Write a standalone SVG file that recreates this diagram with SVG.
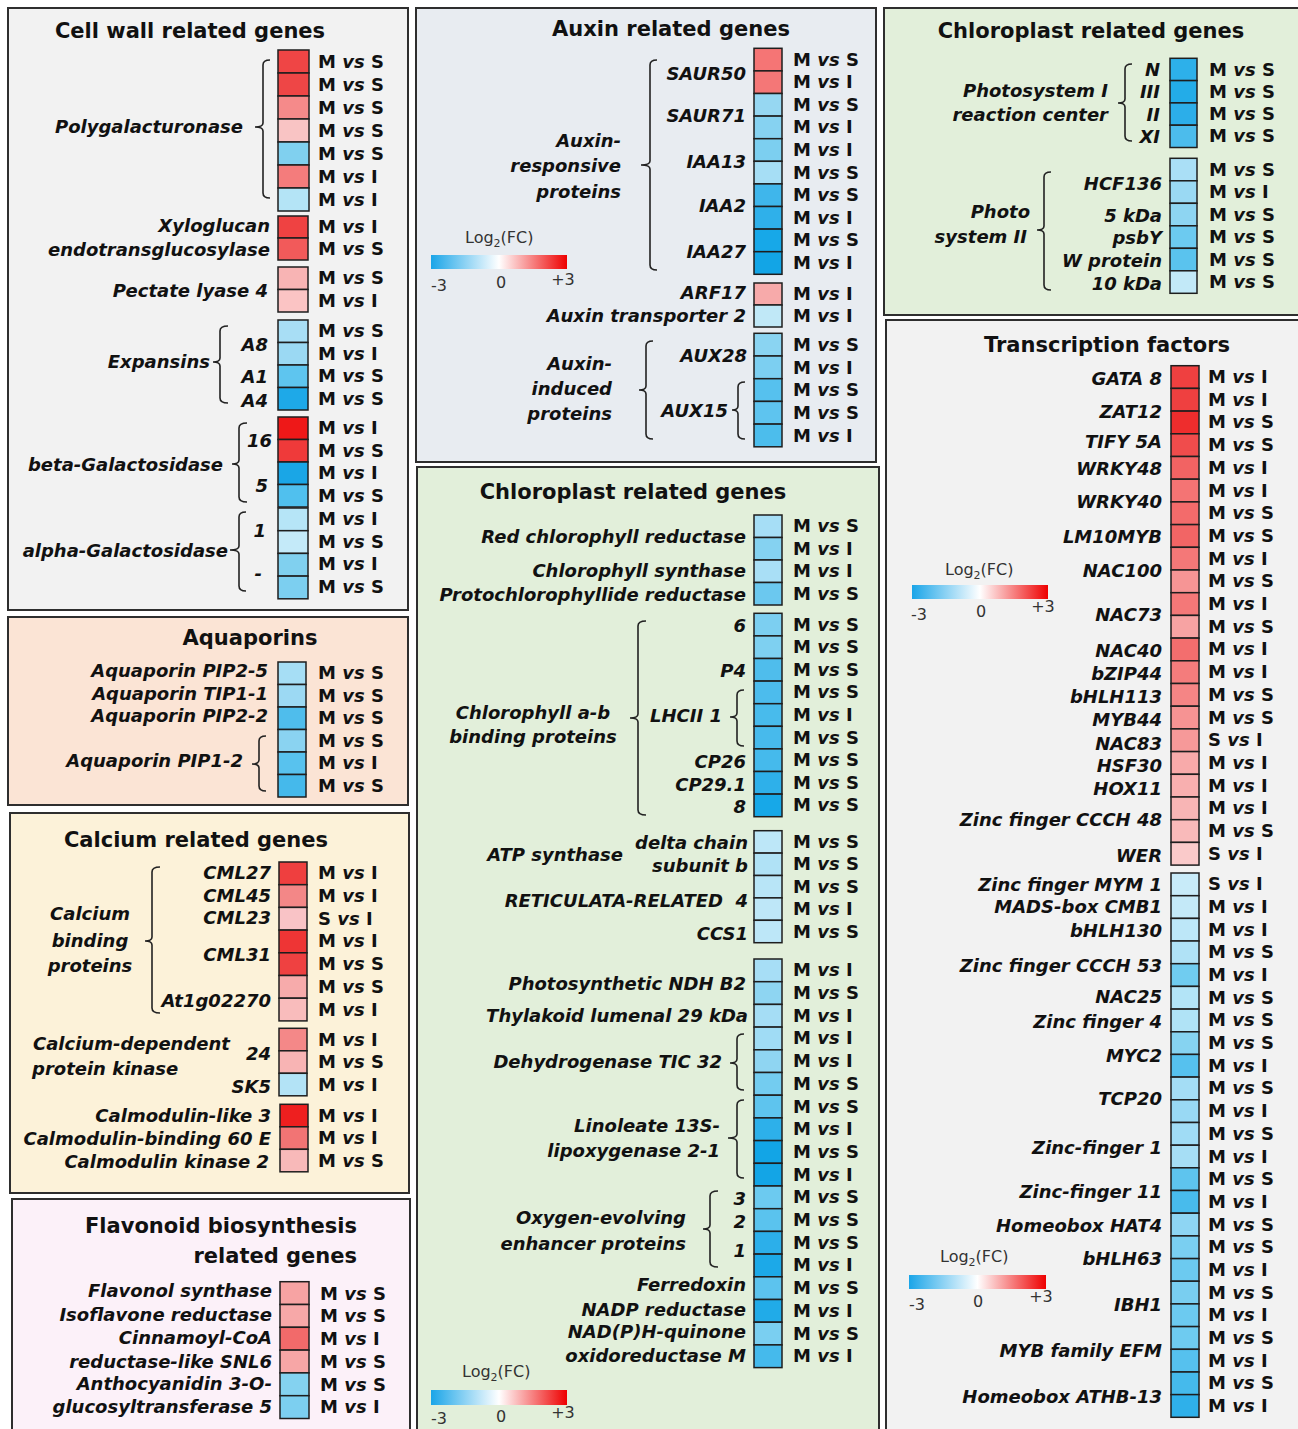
<svg xmlns="http://www.w3.org/2000/svg" width="1298" height="1429" viewBox="0 0 1298 1429">
<defs>
<linearGradient id="lg" x1="0" y1="0" x2="1" y2="0">
<stop offset="0" stop-color="#1aa5e8"/>
<stop offset="0.5" stop-color="#ffffff"/>
<stop offset="1" stop-color="#ee0000"/>
</linearGradient>
<style>
text{font-family:"DejaVu Sans","Liberation Sans",sans-serif;fill:#111}
.p{stroke:#2e2e2e;stroke-width:2}
.t{font-size:21px;font-weight:bold;text-anchor:middle}
.te{font-size:21px;font-weight:bold;text-anchor:end}
.l{font-size:18px;font-weight:bold;font-style:italic;text-anchor:end}
.m{font-size:18px;font-weight:bold;font-style:italic;text-anchor:middle}
.s{font-size:18px;font-weight:bold;font-style:italic;text-anchor:start}
.c{font-size:18px;font-weight:bold}
.i{font-style:italic}
.k{stroke:#1e1e1e;stroke-width:1.5}
.br{fill:none;stroke:#222;stroke-width:1.6}
.lg{font-size:16px;fill:#333}
.lt{font-size:16px;fill:#333;text-anchor:middle}
</style>
</defs>

<!-- Panel 1: Cell wall -->
<g id="cell-wall">
<rect class="p" x="8" y="8" width="400" height="602" fill="#f2f2f2"/>
<text class="t" x="190" y="38">Cell wall related genes</text>
<g id="polygalacturonase">
<rect class="k" x="278" y="50" width="31" height="23" fill="#ef4545"/>
<rect class="k" x="278" y="73" width="31" height="23" fill="#ee4646"/>
<rect class="k" x="278" y="96" width="31" height="23" fill="#f58a8a"/>
<rect class="k" x="278" y="119" width="31" height="23" fill="#f9c4c4"/>
<rect class="k" x="278" y="142" width="31" height="23" fill="#80d0ef"/>
<rect class="k" x="278" y="165" width="31" height="23" fill="#f47c7c"/>
<rect class="k" x="278" y="188" width="31" height="23" fill="#b4e4f6"/>
<text class="l" x="243" y="133">Polygalacturonase</text>
<text class="c" x="318" y="67.5">M <tspan class="i">vs</tspan> S</text>
<text class="c" x="318" y="90.5">M <tspan class="i">vs</tspan> S</text>
<text class="c" x="318" y="113.5">M <tspan class="i">vs</tspan> S</text>
<text class="c" x="318" y="136.5">M <tspan class="i">vs</tspan> S</text>
<text class="c" x="318" y="159.5">M <tspan class="i">vs</tspan> S</text>
<text class="c" x="318" y="182.5">M <tspan class="i">vs</tspan> I</text>
<text class="c" x="318" y="205.5">M <tspan class="i">vs</tspan> I</text>
</g>
<g id="xyloglucan">
<rect class="k" x="278" y="216" width="30" height="22" fill="#ef4242"/>
<rect class="k" x="278" y="238" width="30" height="22" fill="#f25a5a"/>
<text class="l" x="270" y="232">Xyloglucan</text>
<text class="l" x="270" y="256">endotransglucosylase</text>
<text class="c" x="318" y="233">M <tspan class="i">vs</tspan> I</text>
<text class="c" x="318" y="255">M <tspan class="i">vs</tspan> S</text>
</g>
<g id="pectate-lyase">
<rect class="k" x="278" y="267" width="30" height="22.5" fill="#f8b4b4"/>
<rect class="k" x="278" y="289.5" width="30" height="22.5" fill="#fbc4c4"/>
<text class="l" x="268" y="297">Pectate lyase 4</text>
<text class="c" x="318" y="284">M <tspan class="i">vs</tspan> S</text>
<text class="c" x="318" y="307">M <tspan class="i">vs</tspan> I</text>
</g>
<g id="expansins">
<rect class="k" x="278" y="320" width="30" height="22.5" fill="#a8def5"/>
<rect class="k" x="278" y="342.5" width="30" height="22.5" fill="#9bd9f3"/>
<rect class="k" x="278" y="365" width="30" height="22.5" fill="#5ec5ef"/>
<rect class="k" x="278" y="387.5" width="30" height="22.5" fill="#1ea9e8"/>
<text class="l" x="210" y="368">Expansins</text>
<text class="l" x="268" y="351">A8</text>
<text class="l" x="268" y="383">A1</text>
<text class="l" x="268" y="407">A4</text>
<text class="c" x="318" y="337">M <tspan class="i">vs</tspan> S</text>
<text class="c" x="318" y="360">M <tspan class="i">vs</tspan> I</text>
<text class="c" x="318" y="382">M <tspan class="i">vs</tspan> S</text>
<text class="c" x="318" y="405">M <tspan class="i">vs</tspan> S</text>
</g>
<g id="beta-galactosidase">
<rect class="k" x="278" y="417" width="30" height="22.5" fill="#ee1818"/>
<rect class="k" x="278" y="439.5" width="30" height="22.5" fill="#ef3a3a"/>
<rect class="k" x="278" y="462" width="30" height="22.5" fill="#1aa6e6"/>
<rect class="k" x="278" y="484.5" width="30" height="22.5" fill="#50c0ee"/>
<text class="l" x="223" y="471">beta-Galactosidase</text>
<text class="l" x="272" y="447">16</text>
<text class="l" x="268" y="492">5</text>
<text class="c" x="318" y="434">M <tspan class="i">vs</tspan> I</text>
<text class="c" x="318" y="457">M <tspan class="i">vs</tspan> S</text>
<text class="c" x="318" y="479">M <tspan class="i">vs</tspan> I</text>
<text class="c" x="318" y="502">M <tspan class="i">vs</tspan> S</text>
</g>
<g id="alpha-galactosidase">
<rect class="k" x="278" y="508" width="30" height="22.7" fill="#b6e5f7"/>
<rect class="k" x="278" y="530.7" width="30" height="22.7" fill="#c4eaf9"/>
<rect class="k" x="278" y="553.4" width="30" height="22.7" fill="#80d0ef"/>
<rect class="k" x="278" y="576.1" width="30" height="22.7" fill="#7ccff0"/>
<text class="l" x="228" y="557">alpha-Galactosidase</text>
<text class="l" x="266" y="537">1</text>
<text class="l" x="262" y="580">-</text>
<text class="c" x="318" y="525">M <tspan class="i">vs</tspan> I</text>
<text class="c" x="318" y="548">M <tspan class="i">vs</tspan> S</text>
<text class="c" x="318" y="570">M <tspan class="i">vs</tspan> I</text>
<text class="c" x="318" y="593">M <tspan class="i">vs</tspan> S</text>
</g>
</g>

<!-- Panel 2: Aquaporins -->
<g id="aquaporins">
<rect class="p" x="8" y="617" width="400" height="188" fill="#fbe4d5"/>
<text class="t" x="250" y="645">Aquaporins</text>
<rect class="k" x="278" y="662" width="28" height="22.5" fill="#a6def5"/>
<rect class="k" x="278" y="684.5" width="28" height="22.5" fill="#9cd9f3"/>
<rect class="k" x="278" y="707" width="28" height="22.5" fill="#4fbdec"/>
<rect class="k" x="278" y="729.5" width="28" height="22.5" fill="#8ad3f1"/>
<rect class="k" x="278" y="752" width="28" height="22.5" fill="#58c2ee"/>
<rect class="k" x="278" y="774.5" width="28" height="22.5" fill="#45b9eb"/>
<text class="l" x="268" y="677">Aquaporin PIP2-5</text>
<text class="l" x="268" y="700">Aquaporin TIP1-1</text>
<text class="l" x="268" y="722">Aquaporin PIP2-2</text>
<text class="l" x="243" y="767">Aquaporin PIP1-2</text>
<text class="c" x="318" y="679">M <tspan class="i">vs</tspan> S</text>
<text class="c" x="318" y="702">M <tspan class="i">vs</tspan> S</text>
<text class="c" x="318" y="724">M <tspan class="i">vs</tspan> S</text>
<text class="c" x="318" y="747">M <tspan class="i">vs</tspan> S</text>
<text class="c" x="318" y="769">M <tspan class="i">vs</tspan> I</text>
<text class="c" x="318" y="792">M <tspan class="i">vs</tspan> S</text>
</g>

<!-- Panel 3: Calcium -->
<g id="calcium">
<rect class="p" x="10" y="813" width="399" height="380" fill="#fcf2d9"/>
<text class="t" x="196" y="847">Calcium related genes</text>
<g id="calcium-binding">
<rect class="k" x="279" y="862" width="28" height="22.7" fill="#ef3f3f"/>
<rect class="k" x="279" y="884.7" width="28" height="22.7" fill="#f38787"/>
<rect class="k" x="279" y="907.4" width="28" height="22.7" fill="#f9c3c6"/>
<rect class="k" x="279" y="930.1" width="28" height="22.7" fill="#ee3535"/>
<rect class="k" x="279" y="952.8" width="28" height="22.7" fill="#ef4141"/>
<rect class="k" x="279" y="975.5" width="28" height="22.7" fill="#f7abab"/>
<rect class="k" x="279" y="998.2" width="28" height="22.7" fill="#f9bcbc"/>
<text class="m" x="90" y="920">Calcium</text>
<text class="m" x="90" y="947">binding</text>
<text class="m" x="90" y="972">proteins</text>
<text class="l" x="271" y="879">CML27</text>
<text class="l" x="271" y="902">CML45</text>
<text class="l" x="271" y="924">CML23</text>
<text class="l" x="271" y="961">CML31</text>
<text class="l" x="271" y="1007">At1g02270</text>
<text class="c" x="318" y="879">M <tspan class="i">vs</tspan> I</text>
<text class="c" x="318" y="902">M <tspan class="i">vs</tspan> I</text>
<text class="c" x="318" y="925">S <tspan class="i">vs</tspan> I</text>
<text class="c" x="318" y="947">M <tspan class="i">vs</tspan> I</text>
<text class="c" x="318" y="970">M <tspan class="i">vs</tspan> S</text>
<text class="c" x="318" y="993">M <tspan class="i">vs</tspan> S</text>
<text class="c" x="318" y="1016">M <tspan class="i">vs</tspan> I</text>
</g>
<g id="cdpk">
<rect class="k" x="279" y="1028.3" width="28" height="22.5" fill="#f48888"/>
<rect class="k" x="279" y="1050.8" width="28" height="22.5" fill="#f8b4b4"/>
<rect class="k" x="279" y="1073.3" width="28" height="22.5" fill="#b3e3f6"/>
<text class="s" x="33" y="1050">Calcium-dependent</text>
<text class="s" x="32" y="1075">protein kinase</text>
<text class="l" x="271" y="1060">24</text>
<text class="l" x="271" y="1093">SK5</text>
<text class="c" x="318" y="1046">M <tspan class="i">vs</tspan> I</text>
<text class="c" x="318" y="1068">M <tspan class="i">vs</tspan> S</text>
<text class="c" x="318" y="1091">M <tspan class="i">vs</tspan> I</text>
</g>
<g id="calmodulin">
<rect class="k" x="280" y="1104.3" width="28" height="22.5" fill="#ee1f1f"/>
<rect class="k" x="280" y="1126.8" width="28" height="22.5" fill="#f27474"/>
<rect class="k" x="280" y="1149.3" width="28" height="22.5" fill="#f8b9b9"/>
<text class="l" x="271" y="1122">Calmodulin-like 3</text>
<text class="l" x="271" y="1145">Calmodulin-binding 60 E</text>
<text class="l" x="269" y="1168">Calmodulin kinase 2</text>
<text class="c" x="318" y="1121.5">M <tspan class="i">vs</tspan> I</text>
<text class="c" x="318" y="1144">M <tspan class="i">vs</tspan> I</text>
<text class="c" x="318" y="1166.5">M <tspan class="i">vs</tspan> S</text>
</g>
</g>

<!-- Panel 4: Flavonoid -->
<g id="flavonoid">
<rect class="p" x="12" y="1199" width="398" height="240" fill="#fcf1f9"/>
<text class="te" x="357" y="1233">Flavonoid biosynthesis</text>
<text class="te" x="357" y="1263">related genes</text>
<rect class="k" x="280" y="1281.7" width="29" height="22.8" fill="#f7a3a3"/>
<rect class="k" x="280" y="1304.5" width="29" height="22.8" fill="#f7a8a8"/>
<rect class="k" x="280" y="1327.3" width="29" height="22.8" fill="#f26a6a"/>
<rect class="k" x="280" y="1350.1" width="29" height="22.8" fill="#f7a6a6"/>
<rect class="k" x="280" y="1372.9" width="29" height="22.8" fill="#84d2f0"/>
<rect class="k" x="280" y="1395.7" width="29" height="22.8" fill="#7ccff0"/>
<text class="l" x="272" y="1297">Flavonol synthase</text>
<text class="l" x="272" y="1321">Isoflavone reductase</text>
<text class="l" x="272" y="1344">Cinnamoyl-CoA</text>
<text class="l" x="272" y="1368">reductase-like SNL6</text>
<text class="l" x="272" y="1390">Anthocyanidin 3-O-</text>
<text class="l" x="272" y="1413">glucosyltransferase 5</text>
<text class="c" x="320" y="1300">M <tspan class="i">vs</tspan> S</text>
<text class="c" x="320" y="1322">M <tspan class="i">vs</tspan> S</text>
<text class="c" x="320" y="1345">M <tspan class="i">vs</tspan> I</text>
<text class="c" x="320" y="1368">M <tspan class="i">vs</tspan> S</text>
<text class="c" x="320" y="1391">M <tspan class="i">vs</tspan> S</text>
<text class="c" x="320" y="1413">M <tspan class="i">vs</tspan> I</text>
</g>

<!-- Panel 5: Auxin -->
<g id="auxin">
<rect class="p" x="416" y="8" width="460" height="454" fill="#e8ecf1"/>
<text class="t" x="671" y="36">Auxin related genes</text>
<g id="auxin-responsive">
<rect class="k" x="754" y="48.3" width="28" height="22.6" fill="#f57575"/>
<rect class="k" x="754" y="70.9" width="28" height="22.6" fill="#f47777"/>
<rect class="k" x="754" y="93.5" width="28" height="22.6" fill="#96d7f2"/>
<rect class="k" x="754" y="116.1" width="28" height="22.6" fill="#86d2f1"/>
<rect class="k" x="754" y="138.7" width="28" height="22.6" fill="#7ccff0"/>
<rect class="k" x="754" y="161.3" width="28" height="22.6" fill="#a6def5"/>
<rect class="k" x="754" y="183.9" width="28" height="22.6" fill="#3fb6eb"/>
<rect class="k" x="754" y="206.5" width="28" height="22.6" fill="#2fb0ea"/>
<rect class="k" x="754" y="229.1" width="28" height="22.6" fill="#17a8e8"/>
<rect class="k" x="754" y="251.7" width="28" height="22.6" fill="#12a5e6"/>
<text class="l" x="621" y="147">Auxin-</text>
<text class="l" x="621" y="172">responsive</text>
<text class="l" x="621" y="198">proteins</text>
<text class="l" x="746" y="80">SAUR50</text>
<text class="l" x="746" y="122">SAUR71</text>
<text class="l" x="746" y="168">IAA13</text>
<text class="l" x="746" y="212">IAA2</text>
<text class="l" x="746" y="258">IAA27</text>
<text class="c" x="793" y="65.6">M <tspan class="i">vs</tspan> S</text>
<text class="c" x="793" y="88.2">M <tspan class="i">vs</tspan> I</text>
<text class="c" x="793" y="110.8">M <tspan class="i">vs</tspan> S</text>
<text class="c" x="793" y="133.4">M <tspan class="i">vs</tspan> I</text>
<text class="c" x="793" y="156">M <tspan class="i">vs</tspan> I</text>
<text class="c" x="793" y="178.6">M <tspan class="i">vs</tspan> S</text>
<text class="c" x="793" y="201.2">M <tspan class="i">vs</tspan> S</text>
<text class="c" x="793" y="223.8">M <tspan class="i">vs</tspan> I</text>
<text class="c" x="793" y="246.4">M <tspan class="i">vs</tspan> S</text>
<text class="c" x="793" y="269">M <tspan class="i">vs</tspan> I</text>
</g>
<g id="legend-1">
<text class="lg" x="465" y="243">Log<tspan font-size="11" dy="4">2</tspan><tspan dy="-4">(FC)</tspan></text>
<rect x="431" y="255" width="136" height="14" fill="url(#lg)"/>
<text class="lt" x="439" y="291">-3</text>
<text class="lt" x="501" y="288">0</text>
<text class="lt" x="563" y="285">+3</text>
</g>
<g id="arf17">
<rect class="k" x="754" y="283" width="28" height="22" fill="#f7aaaa"/>
<rect class="k" x="754" y="305" width="28" height="22" fill="#c0e8f7"/>
<text class="l" x="746" y="299">ARF17</text>
<text class="l" x="746" y="322">Auxin transporter 2</text>
<text class="c" x="793" y="300">M <tspan class="i">vs</tspan> I</text>
<text class="c" x="793" y="322">M <tspan class="i">vs</tspan> I</text>
</g>
<g id="auxin-induced">
<rect class="k" x="754" y="333.3" width="28" height="22.7" fill="#8ad4f2"/>
<rect class="k" x="754" y="356" width="28" height="22.7" fill="#7ccff1"/>
<rect class="k" x="754" y="378.7" width="28" height="22.7" fill="#56c1ee"/>
<rect class="k" x="754" y="401.4" width="28" height="22.7" fill="#5ec4ef"/>
<rect class="k" x="754" y="424.1" width="28" height="22.7" fill="#4cbdec"/>
<text class="l" x="612" y="370">Auxin-</text>
<text class="l" x="612" y="395">induced</text>
<text class="l" x="612" y="420">proteins</text>
<text class="l" x="747" y="362">AUX28</text>
<text class="l" x="728" y="417">AUX15</text>
<text class="c" x="793" y="351">M <tspan class="i">vs</tspan> S</text>
<text class="c" x="793" y="373.5">M <tspan class="i">vs</tspan> I</text>
<text class="c" x="793" y="396">M <tspan class="i">vs</tspan> S</text>
<text class="c" x="793" y="419">M <tspan class="i">vs</tspan> S</text>
<text class="c" x="793" y="441.5">M <tspan class="i">vs</tspan> I</text>
</g>
</g>

<!-- Panel 6: Chloroplast (middle) -->
<g id="chloroplast-middle">
<rect class="p" x="417" y="467" width="462" height="972" fill="#e2efda"/>
<text class="t" x="633" y="499">Chloroplast related genes</text>
<g id="chlorophyll-enzymes">
<rect class="k" x="754" y="515" width="28" height="22.5" fill="#a6def6"/>
<rect class="k" x="754" y="537.5" width="28" height="22.5" fill="#85d2f1"/>
<rect class="k" x="754" y="560" width="28" height="22.5" fill="#a9dff6"/>
<rect class="k" x="754" y="582.5" width="28" height="22.5" fill="#6bc8ef"/>
<text class="l" x="746" y="543">Red chlorophyll reductase</text>
<text class="l" x="746" y="577">Chlorophyll synthase</text>
<text class="l" x="746" y="601">Protochlorophyllide reductase</text>
<text class="c" x="793" y="532">M <tspan class="i">vs</tspan> S</text>
<text class="c" x="793" y="555">M <tspan class="i">vs</tspan> I</text>
<text class="c" x="793" y="577">M <tspan class="i">vs</tspan> I</text>
<text class="c" x="793" y="600">M <tspan class="i">vs</tspan> S</text>
</g>
<g id="chlorophyll-ab">
<rect class="k" x="754" y="613.3" width="28" height="22.6" fill="#7ccff1"/>
<rect class="k" x="754" y="635.9" width="28" height="22.6" fill="#7ed0f1"/>
<rect class="k" x="754" y="658.5" width="28" height="22.6" fill="#4fbdec"/>
<rect class="k" x="754" y="681.1" width="28" height="22.6" fill="#4cbced"/>
<rect class="k" x="754" y="703.7" width="28" height="22.6" fill="#48bbec"/>
<rect class="k" x="754" y="726.3" width="28" height="22.6" fill="#47baec"/>
<rect class="k" x="754" y="748.9" width="28" height="22.6" fill="#45baec"/>
<rect class="k" x="754" y="771.5" width="28" height="22.6" fill="#2eb0ea"/>
<rect class="k" x="754" y="794.1" width="28" height="22.6" fill="#17a8e8"/>
<text class="m" x="533" y="719">Chlorophyll a-b</text>
<text class="m" x="533" y="743">binding proteins</text>
<text class="l" x="746" y="632">6</text>
<text class="l" x="746" y="677">P4</text>
<text class="l" x="722" y="722">LHCII 1</text>
<text class="l" x="746" y="768">CP26</text>
<text class="l" x="746" y="791">CP29.1</text>
<text class="l" x="746" y="813">8</text>
<text class="c" x="793" y="630.6">M <tspan class="i">vs</tspan> S</text>
<text class="c" x="793" y="653.2">M <tspan class="i">vs</tspan> S</text>
<text class="c" x="793" y="675.8">M <tspan class="i">vs</tspan> S</text>
<text class="c" x="793" y="698.4">M <tspan class="i">vs</tspan> S</text>
<text class="c" x="793" y="721">M <tspan class="i">vs</tspan> I</text>
<text class="c" x="793" y="743.6">M <tspan class="i">vs</tspan> S</text>
<text class="c" x="793" y="766.2">M <tspan class="i">vs</tspan> S</text>
<text class="c" x="793" y="788.8">M <tspan class="i">vs</tspan> S</text>
<text class="c" x="793" y="811.4">M <tspan class="i">vs</tspan> S</text>
</g>
<g id="atp-synthase">
<rect class="k" x="754" y="830.7" width="28" height="22.4" fill="#bde7f8"/>
<rect class="k" x="754" y="853.1" width="28" height="22.4" fill="#b0e2f6"/>
<rect class="k" x="754" y="875.5" width="28" height="22.4" fill="#b8e5f7"/>
<rect class="k" x="754" y="897.9" width="28" height="22.4" fill="#bee7f8"/>
<rect class="k" x="754" y="920.3" width="28" height="22.4" fill="#bde7f8"/>
<text class="l" x="623" y="861">ATP synthase</text>
<text class="l" x="748" y="849">delta chain</text>
<text class="l" x="748" y="872">subunit b</text>
<text class="l" x="748" y="907" xml:space="preserve">RETICULATA-RELATED  4</text>
<text class="l" x="748" y="940">CCS1</text>
<text class="c" x="793" y="848">M <tspan class="i">vs</tspan> S</text>
<text class="c" x="793" y="870">M <tspan class="i">vs</tspan> S</text>
<text class="c" x="793" y="893">M <tspan class="i">vs</tspan> S</text>
<text class="c" x="793" y="915">M <tspan class="i">vs</tspan> I</text>
<text class="c" x="793" y="938">M <tspan class="i">vs</tspan> S</text>
</g>
<g id="photosynthesis-other">
<rect class="k" x="754" y="959" width="28" height="22.7" fill="#a7def6"/>
<rect class="k" x="754" y="981.7" width="28" height="22.7" fill="#8ed5f2"/>
<rect class="k" x="754" y="1004.4" width="28" height="22.7" fill="#a5ddf5"/>
<rect class="k" x="754" y="1027.1" width="28" height="22.7" fill="#a0dcf5"/>
<rect class="k" x="754" y="1049.8" width="28" height="22.7" fill="#8fd5f2"/>
<rect class="k" x="754" y="1072.5" width="28" height="22.7" fill="#73ccf0"/>
<rect class="k" x="754" y="1095.2" width="28" height="22.7" fill="#5ec4ee"/>
<rect class="k" x="754" y="1117.9" width="28" height="22.7" fill="#2db0ea"/>
<rect class="k" x="754" y="1140.6" width="28" height="22.7" fill="#12a5e6"/>
<rect class="k" x="754" y="1163.3" width="28" height="22.7" fill="#13a5e6"/>
<rect class="k" x="754" y="1186" width="28" height="22.7" fill="#6ccaf0"/>
<rect class="k" x="754" y="1208.7" width="28" height="22.7" fill="#5ac3ee"/>
<rect class="k" x="754" y="1231.4" width="28" height="22.7" fill="#2cafea"/>
<rect class="k" x="754" y="1254.1" width="28" height="22.7" fill="#1ca9e8"/>
<rect class="k" x="754" y="1276.8" width="28" height="22.7" fill="#5cc3ee"/>
<rect class="k" x="754" y="1299.5" width="28" height="22.7" fill="#21abe8"/>
<rect class="k" x="754" y="1322.2" width="28" height="22.7" fill="#7acff1"/>
<rect class="k" x="754" y="1344.9" width="28" height="22.7" fill="#45baec"/>
<text class="l" x="746" y="990">Photosynthetic NDH B2</text>
<text class="l" x="748" y="1022">Thylakoid lumenal 29 kDa</text>
<text class="l" x="722" y="1068">Dehydrogenase TIC 32</text>
<text class="l" x="720" y="1132">Linoleate 13S-</text>
<text class="l" x="720" y="1157">lipoxygenase 2-1</text>
<text class="l" x="686" y="1224">Oxygen-evolving</text>
<text class="l" x="686" y="1250">enhancer proteins</text>
<text class="l" x="746" y="1205">3</text>
<text class="l" x="746" y="1228">2</text>
<text class="l" x="746" y="1257">1</text>
<text class="l" x="746" y="1291">Ferredoxin</text>
<text class="l" x="746" y="1316">NADP reductase</text>
<text class="l" x="746" y="1338">NAD(P)H-quinone</text>
<text class="l" x="746" y="1362">oxidoreductase M</text>
<text class="c" x="793" y="976.4">M <tspan class="i">vs</tspan> I</text>
<text class="c" x="793" y="999">M <tspan class="i">vs</tspan> S</text>
<text class="c" x="793" y="1021.7">M <tspan class="i">vs</tspan> I</text>
<text class="c" x="793" y="1044.4">M <tspan class="i">vs</tspan> I</text>
<text class="c" x="793" y="1067.1">M <tspan class="i">vs</tspan> I</text>
<text class="c" x="793" y="1089.8">M <tspan class="i">vs</tspan> S</text>
<text class="c" x="793" y="1112.5">M <tspan class="i">vs</tspan> S</text>
<text class="c" x="793" y="1135.2">M <tspan class="i">vs</tspan> I</text>
<text class="c" x="793" y="1157.9">M <tspan class="i">vs</tspan> S</text>
<text class="c" x="793" y="1180.6">M <tspan class="i">vs</tspan> I</text>
<text class="c" x="793" y="1203.3">M <tspan class="i">vs</tspan> S</text>
<text class="c" x="793" y="1226">M <tspan class="i">vs</tspan> S</text>
<text class="c" x="793" y="1248.7">M <tspan class="i">vs</tspan> S</text>
<text class="c" x="793" y="1271.4">M <tspan class="i">vs</tspan> I</text>
<text class="c" x="793" y="1294.1">M <tspan class="i">vs</tspan> S</text>
<text class="c" x="793" y="1316.8">M <tspan class="i">vs</tspan> I</text>
<text class="c" x="793" y="1339.5">M <tspan class="i">vs</tspan> S</text>
<text class="c" x="793" y="1362.2">M <tspan class="i">vs</tspan> I</text>
</g>
<g id="legend-2">
<text class="lg" x="462" y="1377">Log<tspan font-size="11" dy="4">2</tspan><tspan dy="-4">(FC)</tspan></text>
<rect x="431" y="1390" width="136" height="15" fill="url(#lg)"/>
<text class="lt" x="439" y="1424">-3</text>
<text class="lt" x="501" y="1422">0</text>
<text class="lt" x="563" y="1418">+3</text>
</g>
</g>

<!-- Panel 7: Chloroplast (right) -->
<g id="chloroplast-right">
<rect class="p" x="884" y="8" width="425" height="307" fill="#e2efda"/>
<text class="t" x="1091" y="38">Chloroplast related genes</text>
<g id="photosystem-1">
<rect class="k" x="1170" y="58.3" width="27" height="22.3" fill="#2db0ea"/>
<rect class="k" x="1170" y="80.6" width="27" height="22.3" fill="#23ace8"/>
<rect class="k" x="1170" y="102.9" width="27" height="22.3" fill="#2caee9"/>
<rect class="k" x="1170" y="125.2" width="27" height="22.3" fill="#4cbcec"/>
<text class="l" x="1108" y="97">Photosystem I</text>
<text class="l" x="1108" y="121">reaction center</text>
<text class="l" x="1160" y="76">N</text>
<text class="l" x="1160" y="98">III</text>
<text class="l" x="1160" y="121">II</text>
<text class="l" x="1160" y="143">XI</text>
<text class="c" x="1209" y="75.5">M <tspan class="i">vs</tspan> S</text>
<text class="c" x="1209" y="97.8">M <tspan class="i">vs</tspan> S</text>
<text class="c" x="1209" y="120">M <tspan class="i">vs</tspan> S</text>
<text class="c" x="1209" y="142.4">M <tspan class="i">vs</tspan> S</text>
</g>
<g id="photosystem-2">
<rect class="k" x="1170" y="158.3" width="27" height="22.5" fill="#aadff6"/>
<rect class="k" x="1170" y="180.8" width="27" height="22.5" fill="#9ad9f3"/>
<rect class="k" x="1170" y="203.3" width="27" height="22.5" fill="#8ed5f2"/>
<rect class="k" x="1170" y="225.8" width="27" height="22.5" fill="#6ccaf0"/>
<rect class="k" x="1170" y="248.3" width="27" height="22.5" fill="#5ac3ee"/>
<rect class="k" x="1170" y="270.8" width="27" height="22.5" fill="#c2e9f8"/>
<text class="l" x="1030" y="218">Photo</text>
<text class="l" x="1027" y="243">system II</text>
<text class="l" x="1162" y="190">HCF136</text>
<text class="l" x="1162" y="222">5 kDa</text>
<text class="l" x="1162" y="244">psbY</text>
<text class="l" x="1162" y="267">W protein</text>
<text class="l" x="1162" y="290">10 kDa</text>
<text class="c" x="1209" y="175.5">M <tspan class="i">vs</tspan> S</text>
<text class="c" x="1209" y="198">M <tspan class="i">vs</tspan> I</text>
<text class="c" x="1209" y="220.5">M <tspan class="i">vs</tspan> S</text>
<text class="c" x="1209" y="243">M <tspan class="i">vs</tspan> S</text>
<text class="c" x="1209" y="265.5">M <tspan class="i">vs</tspan> S</text>
<text class="c" x="1209" y="288">M <tspan class="i">vs</tspan> S</text>
</g>
</g>

<!-- Panel 8: Transcription factors -->
<g id="transcription-factors">
<rect class="p" x="886" y="320" width="423" height="1120" fill="#f2f2f2"/>
<text class="t" x="1107" y="352">Transcription factors</text>
<g id="tf-up">
<rect class="k" x="1171" y="365.7" width="28" height="22.7" fill="#ef4040"/>
<rect class="k" x="1171" y="388.4" width="28" height="22.7" fill="#ef4040"/>
<rect class="k" x="1171" y="411.1" width="28" height="22.7" fill="#ee2d2d"/>
<rect class="k" x="1171" y="433.8" width="28" height="22.7" fill="#f04c4c"/>
<rect class="k" x="1171" y="456.5" width="28" height="22.7" fill="#f26363"/>
<rect class="k" x="1171" y="479.2" width="28" height="22.7" fill="#f47474"/>
<rect class="k" x="1171" y="501.9" width="28" height="22.7" fill="#f36b6b"/>
<rect class="k" x="1171" y="524.6" width="28" height="22.7" fill="#f26565"/>
<rect class="k" x="1171" y="547.3" width="28" height="22.7" fill="#f47878"/>
<rect class="k" x="1171" y="570" width="28" height="22.7" fill="#f69595"/>
<rect class="k" x="1171" y="592.7" width="28" height="22.7" fill="#f47878"/>
<rect class="k" x="1171" y="615.4" width="28" height="22.7" fill="#f7a3a3"/>
<rect class="k" x="1171" y="638.1" width="28" height="22.7" fill="#f36e6e"/>
<rect class="k" x="1171" y="660.8" width="28" height="22.7" fill="#f47c7c"/>
<rect class="k" x="1171" y="683.5" width="28" height="22.7" fill="#f58585"/>
<rect class="k" x="1171" y="706.2" width="28" height="22.7" fill="#f69393"/>
<rect class="k" x="1171" y="728.9" width="28" height="22.7" fill="#f69999"/>
<rect class="k" x="1171" y="751.6" width="28" height="22.7" fill="#f8aaaa"/>
<rect class="k" x="1171" y="774.3" width="28" height="22.7" fill="#f8afaf"/>
<rect class="k" x="1171" y="797" width="28" height="22.7" fill="#f8b5b5"/>
<rect class="k" x="1171" y="819.7" width="28" height="22.7" fill="#f9baba"/>
<rect class="k" x="1171" y="842.4" width="28" height="22.7" fill="#facaca"/>
<text class="l" x="1162" y="385">GATA 8</text>
<text class="l" x="1162" y="418">ZAT12</text>
<text class="l" x="1162" y="448">TIFY 5A</text>
<text class="l" x="1162" y="475">WRKY48</text>
<text class="l" x="1162" y="508">WRKY40</text>
<text class="l" x="1162" y="543">LM10MYB</text>
<text class="l" x="1162" y="577">NAC100</text>
<text class="l" x="1162" y="621">NAC73</text>
<text class="l" x="1162" y="657">NAC40</text>
<text class="l" x="1162" y="680">bZIP44</text>
<text class="l" x="1162" y="703">bHLH113</text>
<text class="l" x="1162" y="726">MYB44</text>
<text class="l" x="1162" y="750">NAC83</text>
<text class="l" x="1162" y="772">HSF30</text>
<text class="l" x="1162" y="795">HOX11</text>
<text class="l" x="1162" y="826">Zinc finger CCCH 48</text>
<text class="l" x="1162" y="862">WER</text>
<text class="c" x="1208" y="383">M <tspan class="i">vs</tspan> I</text>
<text class="c" x="1208" y="405.7">M <tspan class="i">vs</tspan> I</text>
<text class="c" x="1208" y="428.4">M <tspan class="i">vs</tspan> S</text>
<text class="c" x="1208" y="451.1">M <tspan class="i">vs</tspan> S</text>
<text class="c" x="1208" y="473.8">M <tspan class="i">vs</tspan> I</text>
<text class="c" x="1208" y="496.5">M <tspan class="i">vs</tspan> I</text>
<text class="c" x="1208" y="519.2">M <tspan class="i">vs</tspan> S</text>
<text class="c" x="1208" y="541.9">M <tspan class="i">vs</tspan> S</text>
<text class="c" x="1208" y="564.6">M <tspan class="i">vs</tspan> I</text>
<text class="c" x="1208" y="587.3">M <tspan class="i">vs</tspan> S</text>
<text class="c" x="1208" y="610">M <tspan class="i">vs</tspan> I</text>
<text class="c" x="1208" y="632.7">M <tspan class="i">vs</tspan> S</text>
<text class="c" x="1208" y="655.4">M <tspan class="i">vs</tspan> I</text>
<text class="c" x="1208" y="678.1">M <tspan class="i">vs</tspan> I</text>
<text class="c" x="1208" y="700.8">M <tspan class="i">vs</tspan> S</text>
<text class="c" x="1208" y="723.5">M <tspan class="i">vs</tspan> S</text>
<text class="c" x="1208" y="746.2">S <tspan class="i">vs</tspan> I</text>
<text class="c" x="1208" y="768.9">M <tspan class="i">vs</tspan> I</text>
<text class="c" x="1208" y="791.6">M <tspan class="i">vs</tspan> I</text>
<text class="c" x="1208" y="814.3">M <tspan class="i">vs</tspan> I</text>
<text class="c" x="1208" y="837">M <tspan class="i">vs</tspan> S</text>
<text class="c" x="1208" y="859.7">S <tspan class="i">vs</tspan> I</text>
</g>
<g id="legend-3">
<text class="lg" x="945" y="575">Log<tspan font-size="11" dy="4">2</tspan><tspan dy="-4">(FC)</tspan></text>
<rect x="912" y="585" width="136" height="14" fill="url(#lg)"/>
<text class="lt" x="919" y="620">-3</text>
<text class="lt" x="981" y="617">0</text>
<text class="lt" x="1043" y="612">+3</text>
</g>
<g id="tf-down">
<rect class="k" x="1171" y="873" width="28" height="22.7" fill="#c8ebf9"/>
<rect class="k" x="1171" y="895.7" width="28" height="22.7" fill="#c4e9f8"/>
<rect class="k" x="1171" y="918.4" width="28" height="22.7" fill="#bde7f8"/>
<rect class="k" x="1171" y="941" width="28" height="22.7" fill="#b0e2f6"/>
<rect class="k" x="1171" y="963.7" width="28" height="22.7" fill="#70ccf0"/>
<rect class="k" x="1171" y="986.4" width="28" height="22.7" fill="#b3e4f7"/>
<rect class="k" x="1171" y="1009.1" width="28" height="22.7" fill="#b0e3f6"/>
<rect class="k" x="1171" y="1031.8" width="28" height="22.7" fill="#86d3f1"/>
<rect class="k" x="1171" y="1054.4" width="28" height="22.7" fill="#56c1ee"/>
<rect class="k" x="1171" y="1077.1" width="28" height="22.7" fill="#a4ddf5"/>
<rect class="k" x="1171" y="1099.8" width="28" height="22.7" fill="#99d9f4"/>
<rect class="k" x="1171" y="1122.5" width="28" height="22.7" fill="#a0dcf5"/>
<rect class="k" x="1171" y="1145.2" width="28" height="22.7" fill="#a6def5"/>
<rect class="k" x="1171" y="1167.8" width="28" height="22.7" fill="#5ec4ee"/>
<rect class="k" x="1171" y="1190.5" width="28" height="22.7" fill="#48bbec"/>
<rect class="k" x="1171" y="1213.2" width="28" height="22.7" fill="#8ed5f3"/>
<rect class="k" x="1171" y="1235.9" width="28" height="22.7" fill="#7acff1"/>
<rect class="k" x="1171" y="1258.6" width="28" height="22.7" fill="#6ccaf0"/>
<rect class="k" x="1171" y="1281.2" width="28" height="22.7" fill="#79cef0"/>
<rect class="k" x="1171" y="1303.9" width="28" height="22.7" fill="#6ccaf0"/>
<rect class="k" x="1171" y="1326.6" width="28" height="22.7" fill="#6ecbf0"/>
<rect class="k" x="1171" y="1349.3" width="28" height="22.7" fill="#56c1ee"/>
<rect class="k" x="1171" y="1372" width="28" height="22.7" fill="#45baec"/>
<rect class="k" x="1171" y="1394.6" width="28" height="22.7" fill="#2fb0ea"/>
<text class="l" x="1162" y="891">Zinc finger MYM 1</text>
<text class="l" x="1162" y="913">MADS-box CMB1</text>
<text class="l" x="1162" y="937">bHLH130</text>
<text class="l" x="1162" y="972">Zinc finger CCCH 53</text>
<text class="l" x="1162" y="1003">NAC25</text>
<text class="l" x="1162" y="1028">Zinc finger 4</text>
<text class="l" x="1162" y="1062">MYC2</text>
<text class="l" x="1162" y="1105">TCP20</text>
<text class="l" x="1162" y="1154">Zinc-finger 1</text>
<text class="l" x="1162" y="1198">Zinc-finger 11</text>
<text class="l" x="1162" y="1232">Homeobox HAT4</text>
<text class="l" x="1162" y="1265">bHLH63</text>
<text class="l" x="1162" y="1311">IBH1</text>
<text class="l" x="1162" y="1357">MYB family EFM</text>
<text class="l" x="1162" y="1403">Homeobox ATHB-13</text>
<text class="c" x="1208" y="890.3">S <tspan class="i">vs</tspan> I</text>
<text class="c" x="1208" y="913">M <tspan class="i">vs</tspan> I</text>
<text class="c" x="1208" y="935.7">M <tspan class="i">vs</tspan> I</text>
<text class="c" x="1208" y="958.3">M <tspan class="i">vs</tspan> S</text>
<text class="c" x="1208" y="981">M <tspan class="i">vs</tspan> I</text>
<text class="c" x="1208" y="1003.7">M <tspan class="i">vs</tspan> S</text>
<text class="c" x="1208" y="1026.4">M <tspan class="i">vs</tspan> S</text>
<text class="c" x="1208" y="1049.1">M <tspan class="i">vs</tspan> S</text>
<text class="c" x="1208" y="1071.7">M <tspan class="i">vs</tspan> I</text>
<text class="c" x="1208" y="1094.4">M <tspan class="i">vs</tspan> S</text>
<text class="c" x="1208" y="1117.1">M <tspan class="i">vs</tspan> I</text>
<text class="c" x="1208" y="1139.8">M <tspan class="i">vs</tspan> S</text>
<text class="c" x="1208" y="1162.5">M <tspan class="i">vs</tspan> I</text>
<text class="c" x="1208" y="1185.1">M <tspan class="i">vs</tspan> S</text>
<text class="c" x="1208" y="1207.8">M <tspan class="i">vs</tspan> I</text>
<text class="c" x="1208" y="1230.5">M <tspan class="i">vs</tspan> S</text>
<text class="c" x="1208" y="1253.2">M <tspan class="i">vs</tspan> S</text>
<text class="c" x="1208" y="1275.9">M <tspan class="i">vs</tspan> I</text>
<text class="c" x="1208" y="1298.5">M <tspan class="i">vs</tspan> S</text>
<text class="c" x="1208" y="1321.2">M <tspan class="i">vs</tspan> I</text>
<text class="c" x="1208" y="1343.9">M <tspan class="i">vs</tspan> S</text>
<text class="c" x="1208" y="1366.6">M <tspan class="i">vs</tspan> I</text>
<text class="c" x="1208" y="1389.3">M <tspan class="i">vs</tspan> S</text>
<text class="c" x="1208" y="1411.9">M <tspan class="i">vs</tspan> I</text>
</g>
<g id="legend-4">
<text class="lg" x="940" y="1262">Log<tspan font-size="11" dy="4">2</tspan><tspan dy="-4">(FC)</tspan></text>
<rect x="909" y="1275" width="137" height="14" fill="url(#lg)"/>
<text class="lt" x="917" y="1310">-3</text>
<text class="lt" x="978" y="1307">0</text>
<text class="lt" x="1041" y="1302">+3</text>
</g>
</g>

<!-- Brackets -->
<g id="connectors" class="br">
<path d="M270,60 Q263,60 263,65 V123 Q263,127 255,127 Q263,127 263,131 V193 Q263,198 270,198"/>
<path d="M228,326 Q220,326 220,331 V358 Q220,362 213,362 Q220,362 220,366 V398 Q220,403 228,403"/>
<path d="M247,423 Q239,423 239,428 V460 Q239,464 232,464 Q239,464 239,468 V497 Q239,502 247,502"/>
<path d="M246,512 Q239,512 239,517 V546 Q239,550 230,550 Q239,550 239,554 V586 Q239,591 246,591"/>
<path d="M266,736 Q259,736 259,741 V760 Q259,764 252,764 Q259,764 259,768 V786 Q259,791 266,791"/>
<path d="M160,867 Q152,867 152,872 V937 Q152,941 145,941 Q152,941 152,945 V1008 Q152,1013 160,1013"/>
<path d="M657,60 Q650,60 650,65 V161 Q650,165 641,165 Q650,165 650,169 V265 Q650,270 657,270"/>
<path d="M745,382 Q738,382 738,387 V406 Q738,410 732,410 Q738,410 738,414 V434 Q738,439 745,439"/>
<path d="M653,341 Q646,341 646,346 V386 Q646,390 639,390 Q646,390 646,394 V434 Q646,439 653,439"/>
<path d="M744,690 Q737,690 737,695 V713 Q737,717 730,717 Q737,717 737,721 V741 Q737,746 744,746"/>
<path d="M646,621 Q638,621 638,626 V714 Q638,718 630,718 Q638,718 638,722 V810 Q638,815 646,815"/>
<path d="M744,1034 Q737,1034 737,1039 V1059 Q737,1063 730,1063 Q737,1063 737,1067 V1085 Q737,1090 744,1090"/>
<path d="M744,1100 Q737,1100 737,1105 V1134 Q737,1138 728,1138 Q737,1138 737,1142 V1173 Q737,1178 744,1178"/>
<path d="M718,1191 Q710,1191 710,1196 V1225 Q710,1229 703,1229 Q710,1229 710,1233 V1262 Q710,1267 718,1267"/>
<path d="M1132,64 Q1125,64 1125,69 V99 Q1125,103 1118,103 Q1125,103 1125,107 V136 Q1125,141 1132,141"/>
<path d="M1051,172 Q1044,172 1044,177 V226 Q1044,230 1037,230 Q1044,230 1044,234 V285 Q1044,290 1051,290"/>
</g>
</svg>
